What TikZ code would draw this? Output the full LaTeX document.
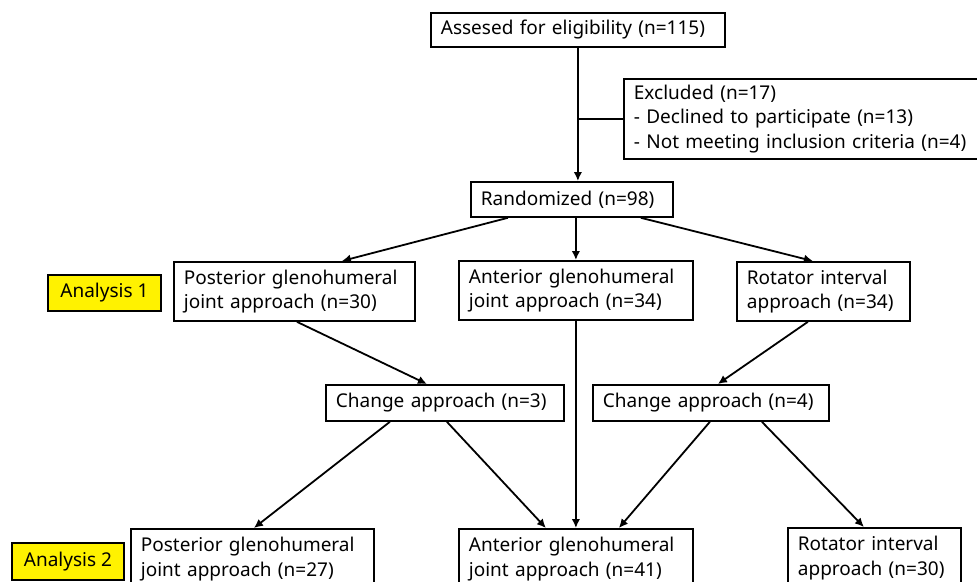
\documentclass[tikz,border=0pt]{standalone}
\usepackage{fontspec}
\setmainfont{Noto Sans}
\usetikzlibrary{arrows.meta}

\begin{document}
\begin{tikzpicture}[x=1pt,y=-1pt,
    box/.style={draw,line width=1.8pt,anchor=north west,align=left,inner xsep=10pt,inner ysep=0pt,font=\fontsize{19}{24.5}\selectfont},
    tag/.style={box,fill=yellow,align=center,inner xsep=0pt},
    arr/.style={line width=1.8pt,-{Latex[length=9pt,width=8.5pt]}}]
    \clip (0,0) rectangle (977,581);
    \node[box,text width=274pt,minimum height=34pt] (top) at (430,12) {Assesed for eligibility (n=115)};
    \node[box,text width=337pt,minimum height=80pt] (excl) at (623,78) {Excluded (n=17)\\- Declined to participate (n=13)\\- Not meeting inclusion criteria (n=4)};
    \node[box,text width=182pt,minimum height=35pt] (rand) at (470,181) {Randomized (n=98)};
    \node[tag,minimum width=113pt,minimum height=36pt] (an1) at (47,274) {Analysis 1};
    \node[box,text width=221pt,minimum height=59pt] (post1) at (173,261) {Posterior glenohumeral\\joint approach (n=30)};
    \node[box,text width=214pt,minimum height=59pt] (ant1) at (458,260) {Anterior glenohumeral\\joint approach (n=34)};
    \node[box,text width=153pt,minimum height=59pt] (rot1) at (736,261) {Rotator interval\\approach (n=34)};
    \node[box,text width=218pt,minimum height=36pt] (chg1) at (325,384) {Change approach (n=3)};
    \node[box,text width=216pt,minimum height=36pt] (chg2) at (592,384) {Change approach (n=4)};
    \node[tag,minimum width=112pt,minimum height=37pt] (an2) at (11,542) {Analysis 2};
    \node[box,text width=223pt,minimum height=60pt] (post3) at (130,528) {Posterior glenohumeral\\joint approach (n=27)};
    \node[box,text width=214pt,minimum height=60pt] (ant3) at (458,528) {Anterior glenohumeral\\joint approach (n=41)};
    \node[box,text width=153pt,minimum height=60pt] (rot3) at (787,527) {Rotator interval\\approach (n=30)};
    % screening
    \draw[arr] (top.south) -- (top.south |- rand.north);
    \draw[line width=1.8pt] (top.south |- excl.west) -- (excl.west);
    % allocation
    \draw[arr] ([xshift=-64pt]rand.south) -- ([xshift=47.5pt]post1.north);
    \draw[arr] (rand.south -| ant1.north) -- (ant1.north);
    \draw[arr] ([xshift=69pt]rand.south) -- ([xshift=-10.5pt]rot1.north);
    \draw[arr] ([xshift=2.5pt]post1.south) -- ([xshift=-18pt]chg1.north);
    \draw[arr] ([xshift=-15.5pt]rot1.south) -- ([xshift=7pt]chg2.north);
    % analysis 2
    \draw[arr] (ant1.south) -- (ant3.north);
    \draw[arr] ([xshift=-55pt]chg1.south) -- ([xshift=1.5pt]post3.north);
    \draw[arr] ([xshift=2pt]chg1.south) -- ([xshift=-30pt]ant3.north);
    \draw[arr] ([xshift=-1pt]chg2.south) -- ([xshift=43pt]ant3.north);
    \draw[arr] ([xshift=51pt]chg2.south) -- ([xshift=-10.5pt]rot3.north);
\end{tikzpicture}
\end{document}
